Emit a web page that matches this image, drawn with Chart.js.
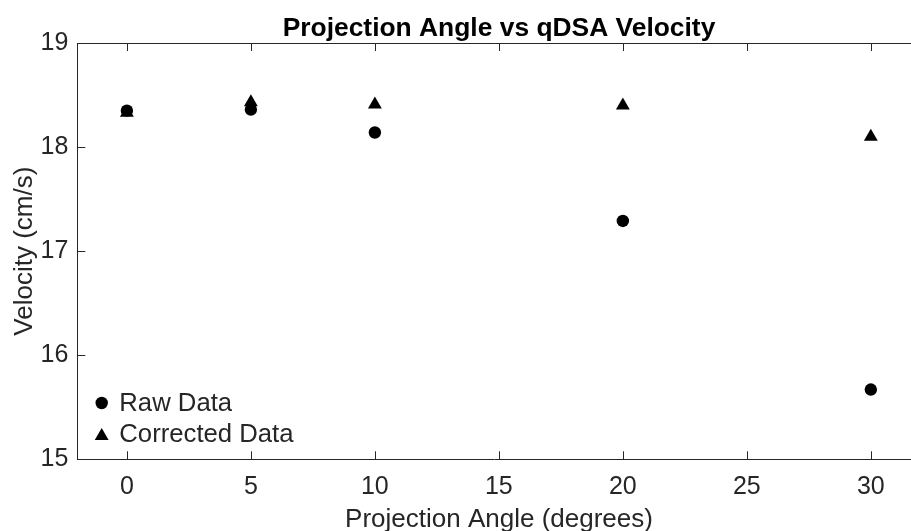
<!DOCTYPE html>
<html>
<head>
<meta charset="utf-8">
<script src="https://cdn.jsdelivr.net/npm/chart.js@4.4.1/dist/chart.umd.min.js"></script>
<style>
  html, body { margin: 0; padding: 0; overflow: hidden; background: #fff; }
  #wrap { position: relative; width: 911px; height: 531px; }
</style>
</head>
<body>
<div id="wrap"><canvas id="c" width="911" height="531"></canvas></div>
<script>
// Projection angle (degrees) and measured qDSA velocity (cm/s)
const angles = [0, 5, 10, 20, 30];
const rawVelocity = [18.35, 18.36, 18.14, 17.29, 15.67];
const correctedVelocity = [18.33, 18.43, 18.41, 18.40, 18.10];
const xTickValues = [0, 5, 10, 15, 20, 25, 30];
const yTickValues = [15, 16, 17, 18, 19];
const seriesNames = ['Raw Data', 'Corrected Data'];

const INK = '#262626';
const FONT = "'Liberation Sans', Arial, Helvetica, sans-serif";

function toPoints(xs, ys) { return xs.map((x, i) => ({ x: x, y: ys[i] })); }

// Boxed axes: top border, inward tick marks, titles and an in-axes legend
const decorations = {
  id: 'decorations',
  afterDraw(chart) {
    const { ctx, chartArea: a, scales } = chart;
    ctx.save();
    ctx.strokeStyle = INK;
    ctx.lineWidth = 1;
    ctx.beginPath();
    ctx.moveTo(a.left, a.top + 0.5);
    ctx.lineTo(a.right, a.top + 0.5);
    const tl = 8;
    xTickValues.forEach(v => {
      const px = Math.round(scales.x.getPixelForValue(v)) + 0.5;
      ctx.moveTo(px, a.bottom); ctx.lineTo(px, a.bottom - tl);
      ctx.moveTo(px, a.top); ctx.lineTo(px, a.top + tl);
    });
    yTickValues.forEach(v => {
      const py = Math.round(scales.y.getPixelForValue(v)) + 0.5;
      ctx.moveTo(a.left, py); ctx.lineTo(a.left + tl, py);
    });
    ctx.stroke();

    ctx.fillStyle = '#000';
    ctx.textAlign = 'center';
    ctx.textBaseline = 'alphabetic';
    ctx.font = 'bold 26.4px ' + FONT;
    const cx = 499;
    ctx.fillText('Projection Angle vs qDSA Velocity', cx, 36);

    ctx.fillStyle = INK;
    ctx.font = '26px ' + FONT;
    ctx.fillText('Projection Angle (degrees)', cx, 527);

    ctx.save();
    ctx.translate(32, (a.top + a.bottom) / 2);
    ctx.rotate(-Math.PI / 2);
    ctx.fillText('Velocity (cm/s)', 0, 0);
    ctx.restore();

    // legend
    const rows = [403, 434];
    ctx.font = '25.7px ' + FONT;
    ctx.textAlign = 'left';
    ctx.textBaseline = 'middle';
    chart.data.datasets.forEach((ds, i) => {
      ctx.fillStyle = ds.backgroundColor;
      ctx.strokeStyle = ds.borderColor;
      Chart.helpers.drawPoint(ctx, { pointStyle: ds.pointStyle, radius: ds.pointRadius, rotation: 0, borderWidth: 0 }, 101.7, rows[i] + (ds.pointStyle === 'triangle' ? 2 : 0));
      ctx.fillStyle = INK;
      ctx.fillText(ds.label, 119.3, rows[i] + 1);
    });
    ctx.restore();
  }
};

new Chart(document.getElementById('c'), {
  type: 'scatter',
  data: {
    datasets: [
      {
        label: seriesNames[0],
        data: toPoints(angles, rawVelocity),
        pointStyle: 'circle',
        pointRadius: 6.2,
        backgroundColor: '#000',
        borderColor: '#000',
        borderWidth: 0
      },
      {
        label: seriesNames[1],
        data: toPoints(angles, correctedVelocity),
        pointStyle: 'triangle',
        pointRadius: 8,
        backgroundColor: '#000',
        borderColor: '#000',
        borderWidth: 0
      }
    ]
  },
  options: {
    responsive: false,
    animation: false,
    events: [],
    layout: { autoPadding: false, padding: { top: 43, right: 0, left: 0, bottom: 0 } },
    plugins: { legend: { display: false }, title: { display: false }, tooltip: { enabled: false } },
    scales: {
      x: {
        type: 'linear',
        min: -2,
        max: 31.62,
        grid: { display: false, drawTicks: false },
        border: { display: true, color: INK, width: 1 },
        ticks: { color: INK, font: { family: FONT, size: 25 }, padding: 13, maxRotation: 0 },
        afterBuildTicks(s) { s.ticks = xTickValues.map(v => ({ value: v })); },
        afterFit(s) { s.height = 71.7; s.paddingLeft = 0; s.paddingRight = 0; }
      },
      y: {
        type: 'linear',
        min: 15,
        max: 19,
        grid: { display: false, drawTicks: false },
        border: { display: true, color: INK, width: 1 },
        ticks: { color: INK, font: { family: FONT, size: 25 }, padding: 9 },
        afterBuildTicks(s) { s.ticks = yTickValues.map(v => ({ value: v })); },
        afterFit(s) { s.width = 77.3; }
      }
    }
  },
  plugins: [decorations]
});
</script>
</body>
</html>
